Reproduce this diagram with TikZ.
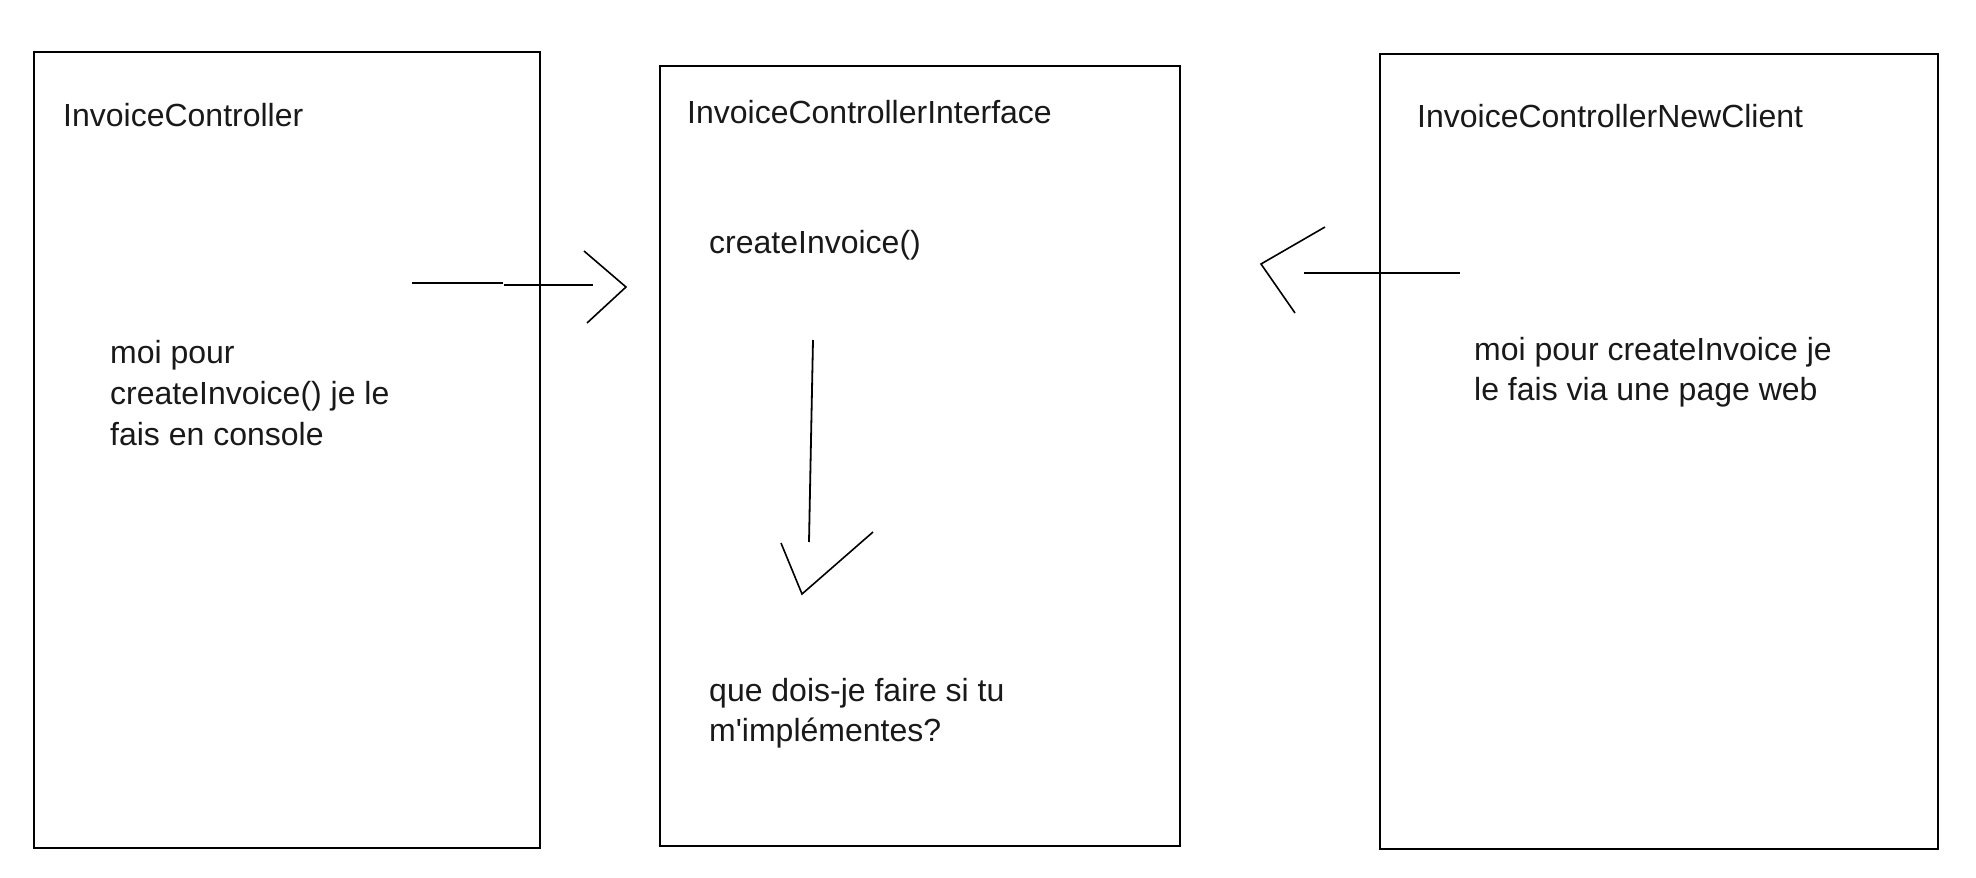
\documentclass[tikz,border=0pt]{standalone}
\usepackage{fontspec}
\setmainfont{Liberation Sans}
\begin{document}
\begin{tikzpicture}[x=1pt,y=-1pt,
  box/.style={draw=black,line width=2pt},
  lbl/.style={anchor=base west,inner sep=0pt,font=\fontsize{32}{39}\selectfont,text=black!90},
  shaft/.style={draw=black,line width=2pt},
  chevron/.style={draw=black,line width=1.6pt,line join=miter}]
\useasboundingbox (0,0) rectangle (1976,878);
\fill[white] (0,0) rectangle (1976,878);

% boxes
\node[box,inner sep=0pt,minimum width=506pt,minimum height=796pt,anchor=north west] (b1) at (33,51) {};
\node[box,inner sep=0pt,minimum width=520pt,minimum height=780pt,anchor=north west] (b2) at (659,65) {};
\node[box,inner sep=0pt,minimum width=558pt,minimum height=795pt,anchor=north west] (b3) at (1379,53) {};

% titles
\node[lbl] (t1) at (63,126) {InvoiceController};
\node[lbl] (t2) at (687,123) {InvoiceControllerInterface};
\node[lbl] (t3) at (1417,127) {InvoiceControllerNewClient};

% body texts
\node[lbl] (m) at (709,253) {createInvoice()};

\node[lbl] (l1) at (110,363) {moi pour};
\node[lbl] (l2) at (110,404) {createInvoice() je le};
\node[lbl] (l3) at (110,445) {fais en console};

\node[lbl] (c1) at (709,701) {que dois-je faire si tu};
\node[lbl] (c2) at (709,741) {m\textquotesingle implémentes?};

\node[lbl] (r1) at (1474,360) {moi pour createInvoice je};
\node[lbl] (r2) at (1474,400) {le fais via une page web};

% right arrow (b1 -> b2)
\coordinate (ra1) at (412,282.7);
\coordinate (ra2) at (503,282.7);
\coordinate (ra3) at (504,285);
\coordinate (ra4) at (593,285);
\coordinate (rh1) at (584,251);
\coordinate (rh2) at (626,287);
\coordinate (rh3) at (587,323);
\draw[shaft] (ra1) -- (ra2);
\draw[shaft] (ra3) -- (ra4);
\draw[chevron] (rh1) -- (rh2) -- (rh3);

% left arrow (b3 -> b2)
\coordinate (la1) at (1460,273);
\coordinate (la2) at (1304,273);
\coordinate (lh1) at (1325,227);
\coordinate (lh2) at (1261,264);
\coordinate (lh3) at (1295,313);
\draw[shaft] (la1) -- (la2);
\draw[chevron] (lh1) -- (lh2) -- (lh3);

% down arrow
\coordinate (da1) at (813,340);
\coordinate (da2) at (811,440);
\coordinate (da3) at (809,542);
\coordinate (dh1) at (781,543);
\coordinate (dh2) at (802,594);
\coordinate (dh3) at (873,532);
\draw[shaft,line width=1.8pt] (da1) -- (da2) -- (da3);
\draw[chevron] (dh1) -- (dh2) -- (dh3);
\end{tikzpicture}
\end{document}
